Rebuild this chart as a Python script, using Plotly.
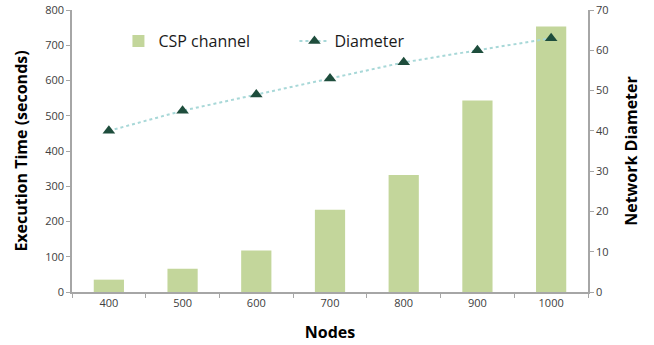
import plotly.graph_objects as go

# Cluster sizes and measurements
nodes = ["400", "500", "600", "700", "800", "900", "1000"]
exec_time = [35, 66, 118, 233, 332, 543, 753]      # seconds, CSP channel
diameter = [40, 45, 49, 53, 57, 60, 63]            # network diameter

left_ticks = [0, 100, 200, 300, 400, 500, 600, 700, 800]
right_ticks = [0, 10, 20, 30, 40, 50, 60, 70]

bar_color = "#c3d69b"
line_color = "#a8d8d8"
marker_color = "#1e4d3c"
axis_color = "#a6a6a6"
tick_font = dict(family="Open Sans", size=11, color="#404040")
title_font = dict(family="Open Sans", size=16, color="#000000")

fig = go.Figure()
fig.add_trace(go.Bar(
    x=nodes, y=exec_time, name="CSP channel",
    marker=dict(color=bar_color, line=dict(width=0)),
    yaxis="y",
))
fig.add_trace(go.Scatter(
    x=nodes, y=diameter, name="Diameter", mode="lines+markers",
    line=dict(color=line_color, width=2, dash="dot"),
    marker=dict(symbol="triangle-up", size=11, color=marker_color),
    yaxis="y2",
))

fig.update_layout(
    width=654, height=345,
    margin=dict(l=72, r=66, t=10, b=53),
    paper_bgcolor="white", plot_bgcolor="white",
    bargap=0.59,
    showlegend=True,
    legend=dict(
        orientation="h", x=0.09, y=0.95, xanchor="left", yanchor="top",
        font=dict(family="Open Sans", size=16, color="#1a1a1a"),
        bgcolor="rgba(0,0,0,0)", itemwidth=30,
        entrywidth=131, entrywidthmode="pixels",
    ),
    xaxis=dict(
        type="category", showgrid=False, showline=True, linecolor=axis_color,
        linewidth=1.5, ticks="outside", tickson="boundaries", ticklen=4,
        tickcolor=axis_color, tickfont=tick_font, automargin=False,
        title=dict(text="<b>Nodes</b>", font=title_font, standoff=18),
    ),
    yaxis=dict(
        range=[0, 800], tickvals=left_ticks, showgrid=False, zeroline=False,
        showline=True, linecolor=axis_color, linewidth=1.5, ticks="outside",
        ticklen=4, tickcolor=axis_color, tickfont=tick_font, automargin=False,
        title=dict(text="<b>Execution Time (seconds)</b>", font=title_font, standoff=14),
    ),
    yaxis2=dict(
        range=[0, 70], tickvals=right_ticks, overlaying="y", side="right",
        showgrid=False, zeroline=False, showline=True, linecolor=axis_color,
        linewidth=1.5, ticks="outside", ticklen=4, tickcolor=axis_color,
        tickfont=tick_font, automargin=False,
        title=dict(text="<b>Network Diameter</b>", font=title_font, standoff=18),
    ),
)

fig.write_html("out.html")
